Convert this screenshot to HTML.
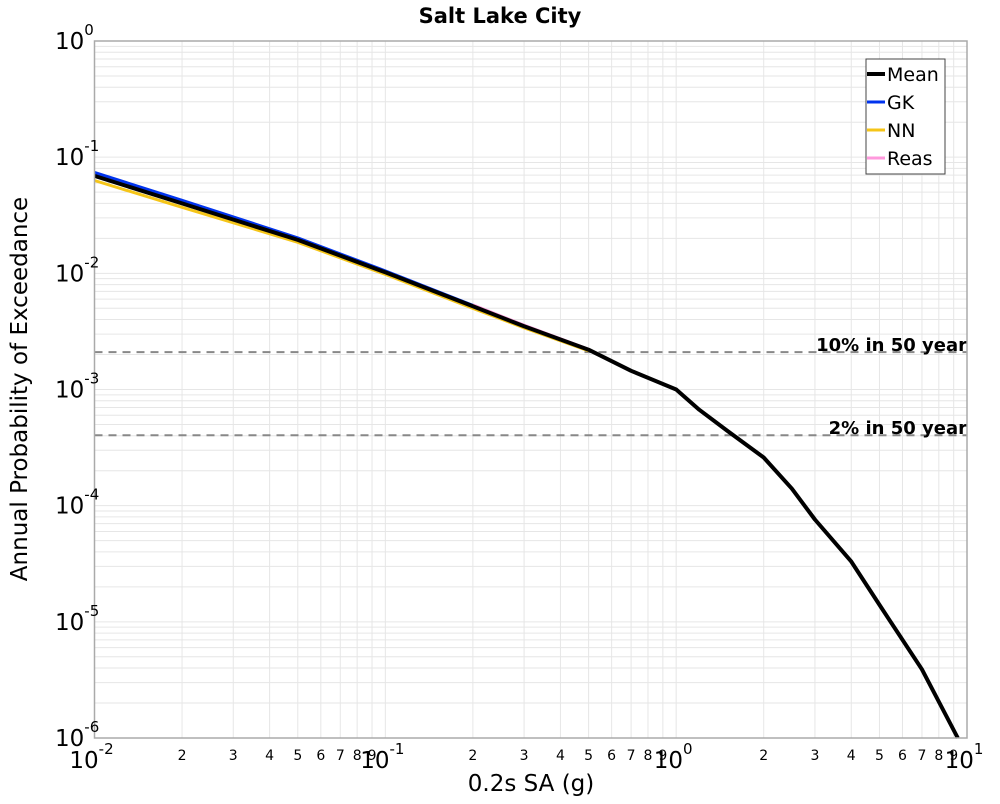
<!DOCTYPE html>
<html><head><meta charset="utf-8"><style>
body{margin:0;background:#fff;font-family:"DejaVu Sans","Liberation Sans",sans-serif;}
svg text{font-family:"DejaVu Sans","Liberation Sans",sans-serif;}
</style></head><body>
<svg id="chart" width="1000" height="800" xmlns="http://www.w3.org/2000/svg">
<text x="500" y="23" text-anchor="middle" font-size="21" font-weight="bold">Salt Lake City</text>
<text x="531" y="791" text-anchor="middle" font-size="23">0.2s SA (g)</text>
<text transform="translate(27,389) rotate(-90)" text-anchor="middle" font-size="23">Annual Probability of Exceedance</text>
<g id="grid"></g>
<g id="series"></g>
<g id="axes"></g>
<g>
<rect x="866" y="59" width="79" height="115" fill="#fff" stroke="#444" stroke-width="1"/>
<line x1="867" y1="74" x2="885" y2="74" stroke="#000" stroke-width="4"/><text x="887" y="81" font-size="19">Mean</text>
<line x1="867" y1="102" x2="885" y2="102" stroke="#0033ee" stroke-width="3"/><text x="887" y="109" font-size="19">GK</text>
<line x1="867" y1="130" x2="885" y2="130" stroke="#f5c518" stroke-width="3"/><text x="887" y="137" font-size="19">NN</text>
<line x1="867" y1="158" x2="885" y2="158" stroke="#ff99dd" stroke-width="3"/><text x="887" y="165" font-size="19">Reas</text>
</g>
</svg>
<script>
const meanX=[0.01,0.02,0.05,0.1,0.2,0.3,0.5,0.7,1.0,1.2,1.5,2.0,2.5,3.0,4.0,5.0,7.0,9.3];
const meanY=[0.069,0.040,0.0194,0.0102,0.0052,0.0035,0.0022,0.00145,0.001,0.00067,0.00044,0.00026,0.00014,7.6e-5,3.3e-5,1.4e-5,3.9e-6,1.0e-6];
const gkX=[0.01,0.02,0.05,0.1,0.2,0.3,0.5];
const gkY=[0.074,0.0425,0.0202,0.0105,0.0053,0.00355,0.0022];
const nnX=[0.01,0.02,0.05,0.1,0.2,0.3,0.5];
const nnY=[0.063,0.037,0.0185,0.0098,0.0050,0.0034,0.00215];
const reasX=[0.2,0.3,0.5];
const reasY=[0.00535,0.00358,0.00222];
const hazardLevels=[0.0021,0.000404];
const hazardLabels=["10% in 50 year","2% in 50 year"];
const xDecades=[-2,-1,0,1];
const yDecades=[0,-1,-2,-3,-4,-5,-6];
const L=94.5,R=967,T=41,B=738;
const sx=v=>L+(Math.log10(v)+2)/3*(R-L);
const sy=v=>T+(-Math.log10(v))/6*(B-T);
const NS="http://www.w3.org/2000/svg";
function mk(tag,parent,attrs){const e=document.createElementNS(NS,tag);for(const k in attrs)e.setAttribute(k,attrs[k]);parent.appendChild(e);return e;}
const grid=document.getElementById('grid'),axes=document.getElementById('axes'),ser=document.getElementById('series');
mk('rect',grid,{x:L,y:T,width:R-L,height:B-T,fill:'#fff'});
for(let d=-2;d<1;d++)for(let m=1;m<10;m++){const v=m*Math.pow(10,d);const x=sx(v);
 const l=mk('line',grid,{x1:x,x2:x,y1:T,y2:B,stroke:'#e6e6e6','stroke-width':1});
 
 if(m>1){const t=mk('text',axes,{x:x,y:760,'text-anchor':'middle','font-size':14});t.textContent=m;
 }}
for(let d=-6;d<0;d++)for(let m=1;m<10;m++){const v=m*Math.pow(10,d);const y=sy(v);
 const l=mk('line',grid,{x1:L,x2:R,y1:y,y2:y,stroke:'#e6e6e6','stroke-width':1});
 }
mk('rect',axes,{x:L,y:T,width:R-L,height:B-T,fill:'none',stroke:'#aaa','stroke-width':1.5});
xDecades.forEach(d=>{const x=sx(Math.pow(10,d));
 const t=mk('text',axes,{x:x-3,y:768,'text-anchor':'middle','font-size':23});
 
 t.innerHTML='10<tspan dy="-14" font-size="15">'+d+'</tspan>';});
yDecades.forEach(d=>{const y=sy(Math.pow(10,d));
 const t=mk('text',axes,{x:55,y:y+8,'font-size':23});
 
 t.innerHTML='10<tspan dy="-14" font-size="15">'+d+'</tspan>';});
hazardLevels.forEach((h,i)=>{const y=sy(h);
 const l=mk('line',ser,{x1:L,x2:R,y1:y,y2:y,stroke:'#888','stroke-width':2,'stroke-dasharray':'8,6'});
 
 const t=mk('text',ser,{x:967,y:y-1,'text-anchor':'end','font-size':18,'font-weight':'bold'});t.textContent=hazardLabels[i];
 });
function line(xs,ys,col,w,name){const p=xs.map((v,i)=>(i?'L':'M')+sx(v).toFixed(1)+','+sy(ys[i]).toFixed(1)).join('');
 const e=mk('path',ser,{d:p,fill:'none',stroke:col,'stroke-width':w,'stroke-linejoin':'round'});
 }
line(gkX,gkY,'#0033ee',3,'gk-line');
line(nnX,nnY,'#f5c518',3,'nn-line');
line(reasX,reasY,'#ff99dd',3,'reas-line');
line(meanX,meanY,'#000',4,'mean-line');
</script>
</body></html>
